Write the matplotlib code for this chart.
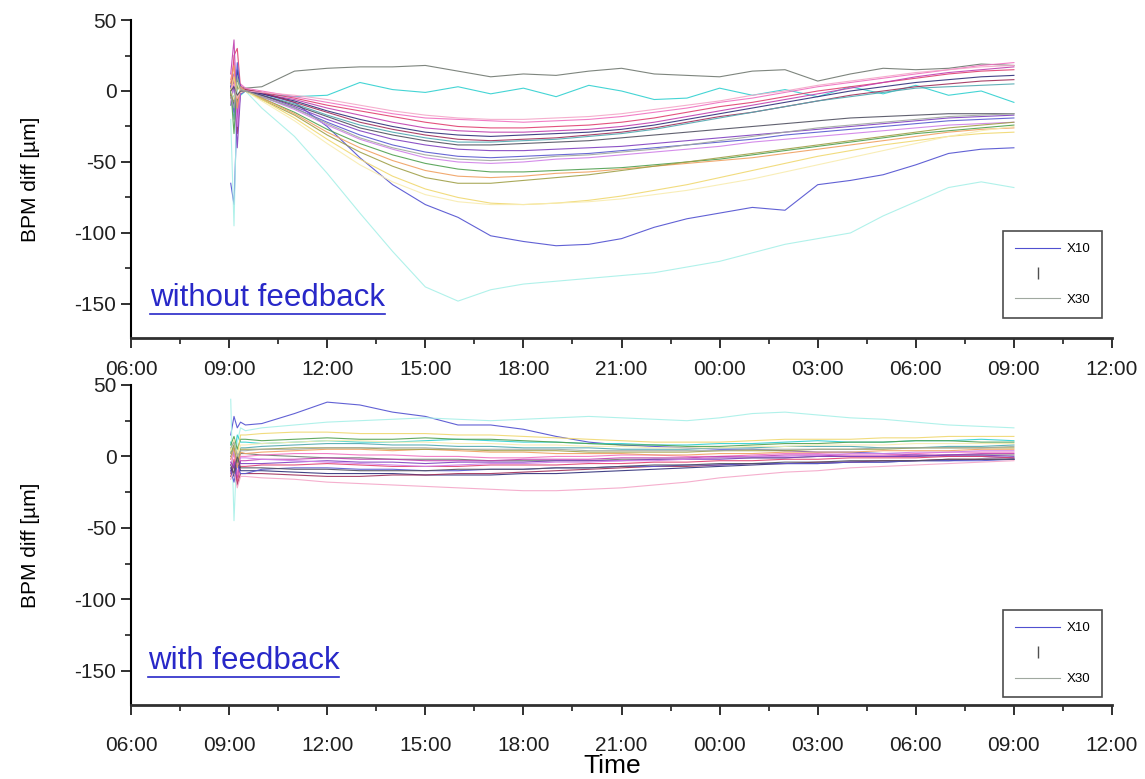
import matplotlib
matplotlib.use("Agg")
import matplotlib.pyplot as plt
from matplotlib.lines import Line2D
from matplotlib.ticker import FixedLocator, MultipleLocator

plt.rcParams['font.family'] = ['Liberation Sans', 'DejaVu Sans']
plt.rcParams['axes.unicode_minus'] = False

# hours since midnight of day 1 (24 + h = next day)
hours = [9.05, 9.15, 9.25, 9.35, 9.5, 10, 11, 12, 13, 14, 15, 16, 17, 18, 19, 20,
         21, 22, 23, 24, 25, 26, 27, 28, 29, 30, 31, 32, 33]

tick_hours = [6, 9, 12, 15, 18, 21, 24, 27, 30, 33, 36]
tick_labels = ['06:00', '09:00', '12:00', '15:00', '18:00', '21:00', '00:00',
               '03:00', '06:00', '09:00', '12:00']

bpm_names = ['X10', 'X11', 'X12', 'X13', 'X14', 'X15', 'X16', 'X17', 'X18', 'X19', 'X20',
             'X21', 'X22', 'X23', 'X24', 'X25', 'X26', 'X27', 'X28', 'X29', 'X30']

# BPM difference [um], orbit feedback off
nofb_x10 = [-65, -80, -10, 2, 0, -2, -8, -25, -47, -66, -80, -89, -102, -106, -109, -108,
            -104, -96, -90, -86, -82, -84, -66, -63, -59, -52, -44, -41, -40]
nofb_x11 = [-20, -95, 5, 0, 0, -12, -32, -58, -86, -113, -138, -148, -140, -136, -134, -132,
            -130, -128, -124, -120, -114, -108, -104, -100, -88, -78, -68, -64, -68]
nofb_x12 = [5, 12, -8, 3, 2, 3, 14, 16, 17, 17, 18, 14, 10, 12, 11, 14,
            16, 12, 11, 10, 14, 15, 7, 12, 16, 15, 16, 19, 18]
nofb_x13 = [0, -5, 10, -3, 0, -2, -4, -3, 6, 1, -1, 3, -2, 2, -4, 4,
            0, -6, -5, 2, -3, 1, -4, 3, -2, 4, -3, 0, -8]
nofb_x14 = [8, 20, -15, 5, 2, 0, -4, -8, -12, -16, -19, -20, -21, -22, -21, -20,
            -18, -15, -12, -8, -5, -1, 3, 6, 9, 12, 15, 18, 20]
nofb_x15 = [-5, 25, 30, 2, 1, -1, -5, -10, -14, -18, -22, -25, -26, -26, -25, -24,
            -22, -19, -15, -11, -8, -4, 0, 3, 6, 9, 12, 14, 15]
nofb_x16 = [12, 36, -20, 4, 0, -2, -6, -12, -17, -22, -26, -28, -29, -29, -28, -27,
            -25, -22, -18, -14, -10, -6, -2, 2, 6, 10, 13, 15, 17]
nofb_x17 = [3, -10, 15, 0, 0, -2, -7, -14, -20, -25, -29, -31, -32, -31, -30, -29,
            -27, -24, -20, -16, -12, -8, -4, 0, 3, 6, 8, 10, 11]
nofb_x18 = [-3, 8, -30, 2, 1, -1, -8, -15, -22, -27, -31, -34, -35, -34, -33, -31,
            -29, -26, -22, -18, -15, -11, -7, -3, 0, 3, 5, 7, 8]
nofb_x19 = [0, -20, 5, 1, 0, -3, -9, -17, -24, -29, -33, -36, -36, -35, -34, -32,
            -30, -27, -23, -19, -15, -11, -7, -4, -1, 2, 3, 4, 5]
nofb_x20 = [-10, 5, -40, -2, 0, -3, -11, -20, -28, -34, -38, -41, -42, -42, -41, -40,
            -39, -37, -35, -33, -31, -29, -27, -25, -23, -21, -19, -18, -17]
nofb_x21 = [4, -15, 20, 0, 0, -4, -12, -22, -31, -38, -43, -46, -47, -46, -45, -44,
            -42, -40, -38, -36, -34, -31, -29, -27, -25, -23, -21, -20, -19]
nofb_x22 = [-8, 12, -25, 2, 0, -4, -13, -24, -34, -41, -47, -50, -51, -50, -48, -47,
            -45, -43, -41, -39, -36, -34, -32, -30, -28, -26, -24, -23, -22]
nofb_x23 = [2, -30, 8, 1, 0, -5, -15, -27, -37, -45, -51, -55, -57, -57, -56, -55,
            -54, -52, -50, -48, -45, -42, -39, -36, -33, -30, -28, -26, -24]
nofb_x24 = [6, 18, -12, 3, 0, -5, -16, -29, -40, -49, -56, -60, -61, -60, -58, -57,
            -55, -53, -51, -49, -47, -44, -41, -38, -35, -32, -29, -27, -26]
nofb_x25 = [-2, -8, 3, 0, 0, -6, -17, -31, -43, -53, -61, -65, -65, -63, -61, -59,
            -56, -53, -50, -47, -44, -41, -38, -35, -32, -29, -26, -24, -22]
nofb_x26 = [0, 10, -5, 1, 0, -6, -19, -34, -48, -60, -69, -75, -79, -80, -79, -77,
            -74, -70, -66, -61, -56, -51, -46, -42, -38, -35, -32, -30, -29]
nofb_x27 = [1, -6, 6, -1, 0, -7, -21, -37, -52, -64, -73, -78, -80, -80, -79, -78,
            -76, -73, -70, -66, -62, -57, -52, -47, -42, -37, -32, -28, -25]
nofb_x28 = [2, 5, -5, 0, 0, -1, -3, -6, -10, -14, -17, -19, -20, -20, -19, -18,
            -16, -13, -10, -7, -3, 0, 4, 7, 10, 13, 15, 17, 18]
nofb_x29 = [0, 3, -3, 0, 0, -3, -10, -18, -26, -31, -35, -38, -38, -37, -36, -35,
            -33, -31, -29, -27, -25, -23, -21, -19, -18, -17, -16, -16, -16]
nofb_x30 = [-4, -12, 10, 1, 0, -4, -12, -23, -33, -40, -45, -48, -49, -48, -46, -45,
            -43, -41, -38, -35, -32, -29, -26, -24, -22, -20, -18, -17, -16]

# BPM difference [um], orbit feedback on
fb_x10 = [15, 28, 20, 24, 22, 23, 30, 38, 36, 31, 28, 22, 22, 19, 14, 10,
          8, 7, 6, 5, 5, 4, 3, 3, 2, 1, 0, 0, -1]
fb_x11 = [40, -45, 10, 20, 18, 20, 22, 24, 25, 26, 27, 26, 25, 26, 27, 28,
          27, 26, 25, 27, 30, 31, 29, 27, 26, 24, 22, 21, 20]
fb_x12 = [0, 6, -4, 2, 2, 1, 0, -1, -1, -2, -2, -2, -3, -3, -3, -3,
          -2, -2, -2, -1, -1, -1, 0, 0, 0, 0, 1, 1, 1]
fb_x13 = [10, 0, 15, 10, 10, 9, 10, 11, 10, 10, 11, 12, 11, 10, 10, 9,
          9, 8, 8, 9, 9, 10, 11, 10, 10, 11, 11, 12, 11]
fb_x14 = [-6, 2, -12, 0, 0, 1, 2, 2, 1, 1, 0, 0, -1, -1, 0, 0,
          1, 1, 0, 0, 1, 2, 2, 1, 1, 2, 3, 3, 3]
fb_x15 = [-12, -2, -18, -7, -7, -6, -6, -5, -6, -7, -7, -7, -6, -6, -6, -5,
          -5, -4, -4, -3, -3, -2, -2, -1, -1, -1, 0, 0, -1]
fb_x16 = [-10, -4, -15, -3, -3, -2, -2, -1, -2, -2, -3, -3, -3, -2, -2, -2,
          -1, -1, -1, 0, 0, 1, 1, 0, 0, 1, 1, 2, 2]
fb_x17 = [-8, -14, -4, -10, -10, -10, -11, -12, -12, -12, -13, -13, -13, -12, -12, -11,
          -10, -9, -8, -7, -6, -5, -5, -4, -4, -3, -3, -2, -2]
fb_x18 = [-14, -6, -20, -12, -12, -12, -13, -14, -14, -13, -13, -12, -12, -11, -10, -9,
          -8, -7, -7, -6, -5, -5, -4, -4, -3, -3, -2, -2, -2]
fb_x19 = [3, 8, -5, 6, 6, 7, 8, 9, 9, 8, 8, 7, 7, 6, 6, 6,
          5, 5, 5, 6, 6, 7, 7, 7, 6, 6, 7, 7, 8]
fb_x20 = [-4, -8, 2, -5, -5, -5, -4, -3, -4, -4, -5, -4, -4, -4, -3, -3,
          -3, -2, -2, -2, -1, -1, 0, 0, 0, 0, 1, 1, 0]
fb_x21 = [-10, -18, -5, -12, -12, -9, -8, -8, -9, -9, -10, -10, -9, -9, -8, -8,
          -7, -7, -6, -6, -5, -5, -5, -4, -4, -3, -3, -3, -2]
fb_x22 = [-2, 4, -6, -1, -1, -2, -3, -4, -5, -6, -7, -6, -5, -5, -4, -4,
          -3, -3, -2, -1, 0, 0, 1, 2, 2, 3, 3, 4, 4]
fb_x23 = [8, 14, 5, 12, 12, 11, 12, 13, 12, 12, 13, 12, 12, 11, 10, 9,
          8, 8, 7, 7, 8, 9, 9, 10, 10, 11, 11, 10, 10]
fb_x24 = [-2, 6, -8, 3, 2, 3, 4, 5, 5, 4, 5, 4, 3, 3, 2, 2,
          2, 1, 1, 2, 2, 3, 3, 3, 4, 4, 4, 5, 5]
fb_x25 = [2, 8, -4, 5, 5, 5, 6, 6, 6, 5, 5, 5, 4, 4, 4, 3,
          3, 3, 3, 4, 4, 4, 5, 5, 5, 6, 6, 6, 6]
fb_x26 = [5, 10, 0, 15, 15, 16, 17, 17, 16, 16, 16, 15, 15, 14, 13, 12,
          11, 10, 10, 10, 11, 12, 12, 12, 13, 13, 14, 14, 14]
fb_x27 = [4, 12, -2, 8, 8, 9, 10, 11, 11, 10, 10, 9, 9, 8, 8, 7,
          7, 6, 6, 6, 7, 7, 8, 8, 8, 9, 9, 9, 9]
fb_x28 = [-16, -10, -22, -14, -14, -15, -16, -18, -19, -20, -21, -22, -23, -24, -24, -23,
          -22, -20, -18, -15, -13, -11, -10, -8, -7, -6, -5, -4, -3]
fb_x29 = [-6, -12, 0, -8, -8, -8, -9, -9, -10, -10, -10, -9, -9, -9, -8, -8,
          -7, -6, -6, -5, -5, -4, -4, -3, -3, -3, -2, -2, -2]
fb_x30 = [6, 10, 0, 4, 4, 5, 5, 6, 6, 6, 6, 5, 5, 5, 5, 4,
          4, 4, 4, 4, 5, 5, 5, 5, 6, 6, 6, 6, 7]

nofb = [nofb_x10, nofb_x11, nofb_x12, nofb_x13, nofb_x14, nofb_x15, nofb_x16,
        nofb_x17, nofb_x18, nofb_x19, nofb_x20, nofb_x21, nofb_x22, nofb_x23,
        nofb_x24, nofb_x25, nofb_x26, nofb_x27, nofb_x28, nofb_x29, nofb_x30]
fb = [fb_x10, fb_x11, fb_x12, fb_x13, fb_x14, fb_x15, fb_x16,
      fb_x17, fb_x18, fb_x19, fb_x20, fb_x21, fb_x22, fb_x23,
      fb_x24, fb_x25, fb_x26, fb_x27, fb_x28, fb_x29, fb_x30]

colors = ['#5050d0', '#a8f0e8', '#707870', '#30d0d0', '#f070c0', '#e04070', '#c040b0',
          '#30307a', '#a0305a', '#50a8b0', '#8040c0', '#5858d0', '#d080e8', '#50a050',
          '#f0a060', '#a0a048', '#f0d870', '#f8ecb0', '#f4a6c8', '#505060', '#a0a8a0']

fig = plt.figure(figsize=(11.45, 7.79), dpi=100)
ax_top = fig.add_axes([0.1144, 0.5661, 0.8568, 0.4082])
ax_bot = fig.add_axes([0.1144, 0.0950, 0.8568, 0.4108])


def style_axis(ax, xpad):
    ax.set_xlim(6, 36)
    ax.set_ylim(-174, 50)
    for side in ['top', 'right']:
        ax.spines[side].set_visible(False)
    ax.spines['left'].set_linewidth(1.5)
    ax.spines['bottom'].set_linewidth(2.0)
    ax.spines['bottom'].set_color('#303030')
    ax.xaxis.set_major_locator(FixedLocator(tick_hours))
    ax.set_xticklabels(tick_labels)
    ax.xaxis.set_minor_locator(MultipleLocator(1.5))
    ax.yaxis.set_major_locator(FixedLocator([50, 0, -50, -100, -150]))
    ax.yaxis.set_minor_locator(FixedLocator([25, -25, -75, -125]))
    ax.tick_params(which='major', direction='out', length=7, width=1.3, labelsize=15,
                   colors='#202020')
    ax.tick_params(axis='x', which='major', pad=xpad)
    ax.tick_params(which='minor', direction='out', length=4, width=1.2, colors='#202020')
    ax.set_ylabel('BPM diff [\u00b5m]', fontsize=15, labelpad=25)


def add_legend(ax, y0):
    handles = [Line2D([], [], color=colors[0], lw=0.8),
               Line2D([], [], ls='none', marker='|', color='#505050', markersize=9),
               Line2D([], [], color=colors[-1], lw=0.8)]
    leg = ax.legend(handles, [bpm_names[0], '', bpm_names[-1]], loc='lower right',
                    bbox_to_anchor=(0.99, y0), fontsize=9.5, frameon=True, fancybox=False,
                    edgecolor='#202020', handlelength=3.4, handletextpad=0.5,
                    labelspacing=1.0, borderpad=0.9, borderaxespad=0.0)
    leg.get_frame().set_linewidth(1.2)


for ax, series, xpad in [(ax_top, nofb, 9), (ax_bot, fb, 15)]:
    for vals, c in zip(series, colors):
        ax.plot(hours, vals, color=c, lw=0.8, alpha=0.9)
    style_axis(ax, xpad)

add_legend(ax_top, 0.063)
add_legend(ax_bot, 0.025)
ax_bot.set_xlabel('Time', fontsize=19)
ax_bot.xaxis.set_label_coords(0.49, -0.152)

labels = [ax_top.text(0.019, 0.100, 'without feedback', transform=ax_top.transAxes,
                      fontsize=22.5, color='#2828c8'),
          ax_bot.text(0.017, 0.112, 'with feedback', transform=ax_bot.transAxes,
                      fontsize=22.5, color='#2828c8')]

# underline the panel captions
fig.canvas.draw()
for t in labels:
    ax = t.axes
    bb = t.get_window_extent().transformed(ax.transAxes.inverted())
    ax.plot([bb.x0, bb.x1], [bb.y0 - 0.004, bb.y0 - 0.004], color='#2828c8', lw=1.2,
            transform=ax.transAxes, clip_on=False)

fig.savefig('out.png', dpi=100)
